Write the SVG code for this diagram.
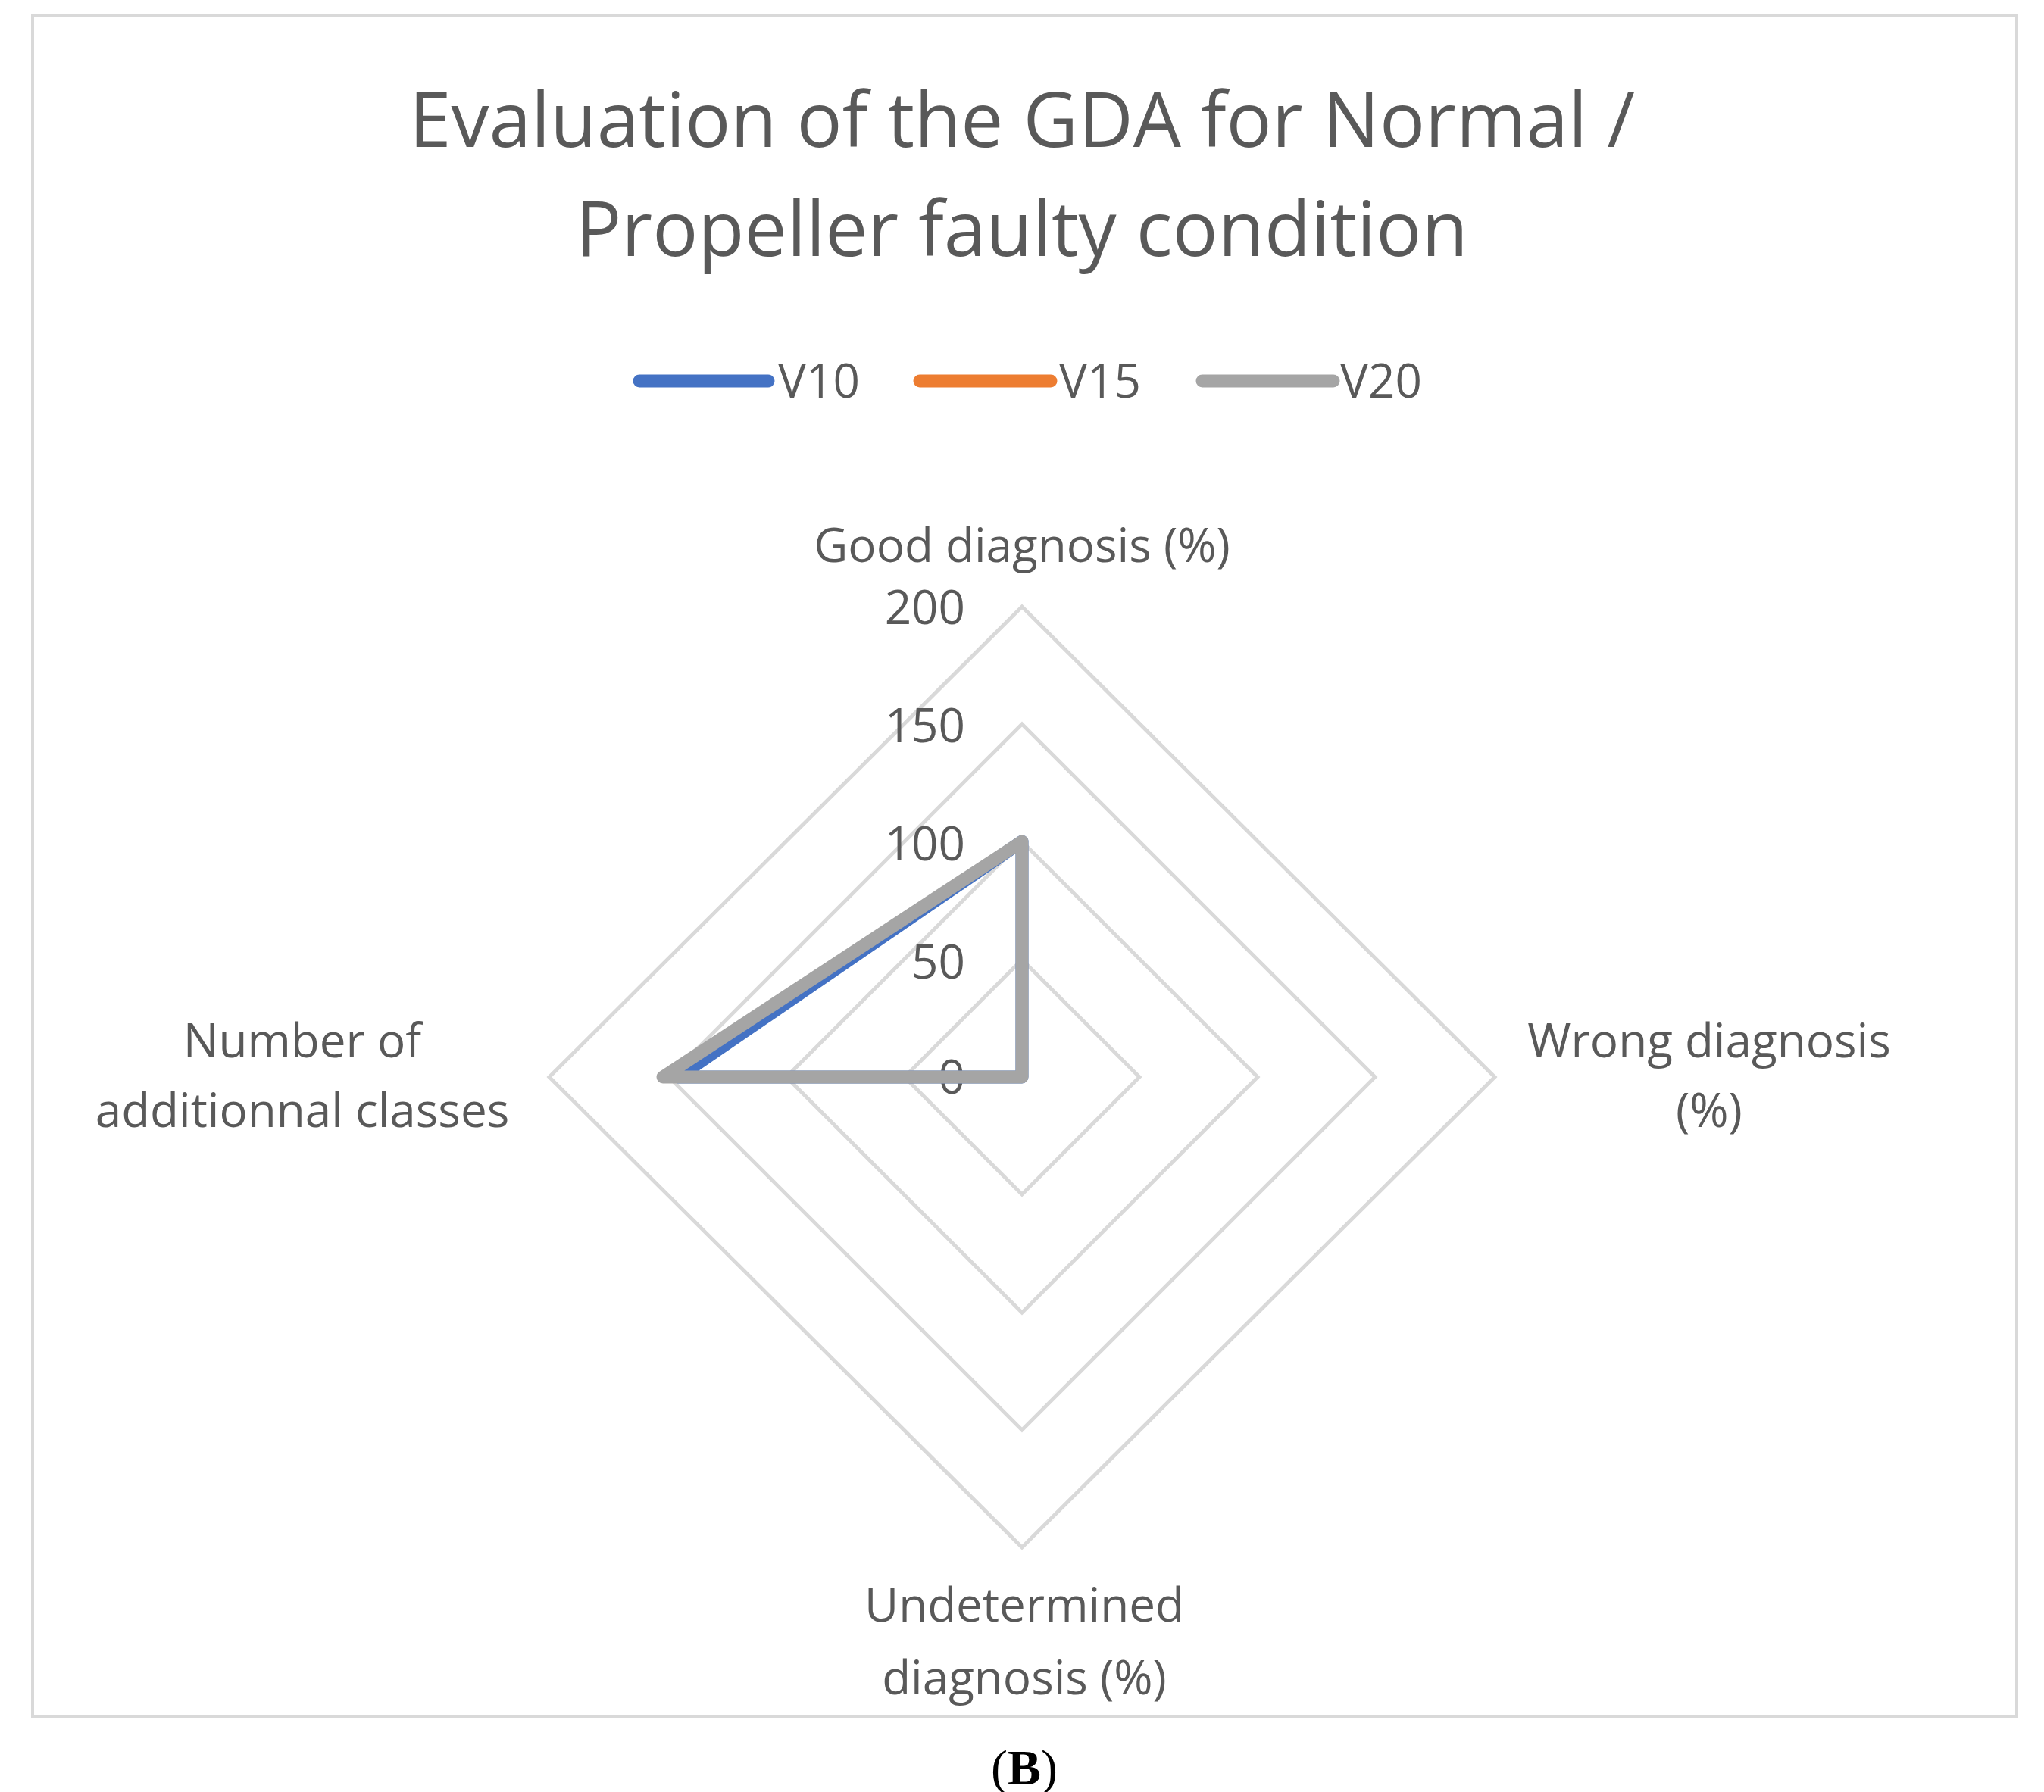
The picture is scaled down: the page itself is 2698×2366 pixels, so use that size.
<svg xmlns="http://www.w3.org/2000/svg" width="2698" height="2366" viewBox="0 0 2698 2366">
<style>
.t{font-family:"Open Sans","Liberation Sans",sans-serif;fill:#595959}
.g{fill:none;stroke:#d9d9d9;stroke-width:5}
</style>
<rect width="2698" height="2366" fill="#fff"/>
<rect x="43" y="21" width="2619" height="2245" fill="#fff" stroke="#d9d9d9" stroke-width="4"/>
<text class="t" font-size="100" text-anchor="middle" x="1349" y="194">Evaluation of the GDA for Normal /</text>
<text class="t" font-size="100" text-anchor="middle" x="1349" y="338">Propeller faulty condition</text>
<g id="legend">
<line x1="844" y1="503" x2="1014" y2="503" stroke="#4472c4" stroke-width="17" stroke-linecap="round"/>
<text class="t" font-size="62" x="1027" y="525">V10</text>
<line x1="1214" y1="503" x2="1387" y2="503" stroke="#ed7d31" stroke-width="17" stroke-linecap="round"/>
<text class="t" font-size="62" x="1398" y="525">V15</text>
<line x1="1587" y1="503" x2="1760" y2="503" stroke="#a5a5a5" stroke-width="17" stroke-linecap="round"/>
<text class="t" font-size="62" x="1769" y="525">V20</text>
</g>
<g id="grid">
<polygon class="g" points="1349,1267 1504,1422 1349,1577 1194,1422"/>
<polygon class="g" points="1349,1111 1660,1422 1349,1733 1038,1422"/>
<polygon class="g" points="1349,956 1815,1422 1349,1888 883,1422"/>
<polygon class="g" points="1349,801 1973,1422 1349,2043 725,1422"/>
</g>
<g id="ticks" class="t" font-size="62" text-anchor="end">
<text x="1274" y="824">200</text>
<text x="1274" y="980">150</text>
<text x="1274" y="1136">100</text>
<text x="1274" y="1292">50</text>
<text x="1274" y="1444">0</text>
</g>
<g id="labels" class="t" font-size="62" text-anchor="middle">
<text x="1349" y="742">Good diagnosis (%)</text>
<text x="2256" y="1396">Wrong diagnosis</text>
<text x="2256" y="1488">(%)</text>
<text x="399" y="1396">Number of</text>
<text x="399" y="1488">additionnal classes</text>
<text x="1352" y="2141">Undetermined</text>
<text x="1352" y="2237">diagnosis (%)</text>
</g>
<g id="series" fill="none" stroke-width="17" stroke-linejoin="round">
<polygon points="1349,1111 1349,1422 1349,1422 895,1422" stroke="#4472c4"/>
<polygon points="1349,1111 1349,1422 1349,1422 875,1422" stroke="#a5a5a5"/>
</g>
<text x="1352" y="2356" font-family="Liberation Serif,serif" font-size="66" text-anchor="middle" fill="#000">(<tspan font-weight="bold">B</tspan>)</text>
</svg>
